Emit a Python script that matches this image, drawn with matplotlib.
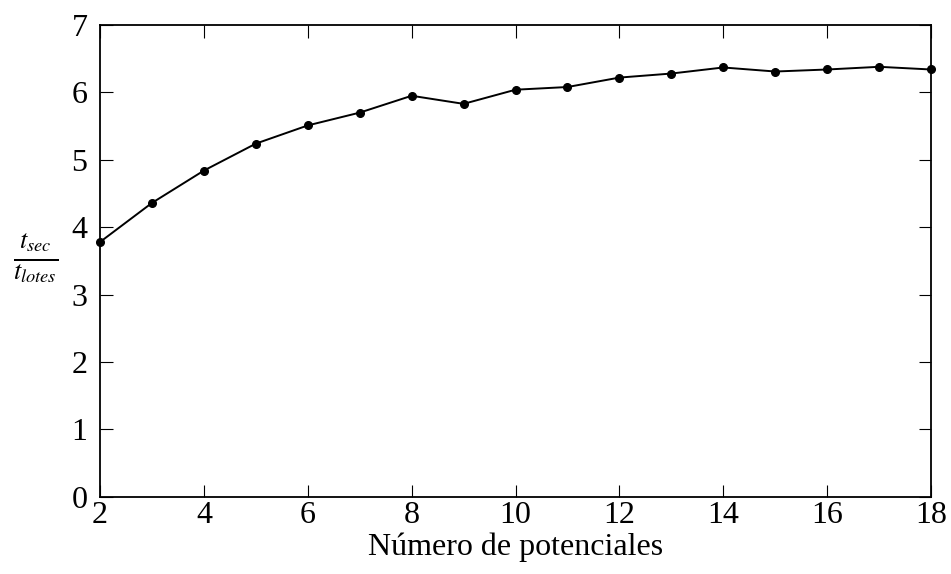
import matplotlib
matplotlib.use("Agg")
import matplotlib.pyplot as plt

n_potenciales = [2, 3, 4, 5, 6, 7, 8, 9, 10, 11, 12, 13, 14, 15, 16, 17, 18]
ratio = [3.78, 4.36, 4.84, 5.24, 5.51, 5.70, 5.95, 5.83, 6.04, 6.08, 6.22,
         6.28, 6.37, 6.31, 6.34, 6.38, 6.34]
x_ticks = [2, 4, 6, 8, 10, 12, 14, 16, 18]
y_ticks = [0, 1, 2, 3, 4, 5, 6, 7]

plt.rcParams['font.family'] = ['Liberation Serif', 'DejaVu Serif']
plt.rcParams['mathtext.fontset'] = 'stix'

fig = plt.figure(figsize=(9.51, 5.74), dpi=100)
ax = fig.add_axes([0.1052, 0.1347, 0.979 - 0.1052, 0.9564 - 0.1347])

ax.plot(n_potenciales, ratio, color='black', lw=1.4, marker='o',
        markersize=5.5, clip_on=False, zorder=3)

ax.set_xlim(2, 18)
ax.set_ylim(0, 7)
ax.set_xticks(x_ticks)
ax.set_yticks(y_ticks)
ax.tick_params(direction='in', length=9, width=0.8, top=True, right=True,
               labelsize=23)
ax.tick_params(axis='x', pad=3)
ax.tick_params(axis='y', pad=9)
for s in ax.spines.values():
    s.set_linewidth(1.3)

ax.set_xlabel('Número de potenciales', fontsize=23, labelpad=2)
ax.set_ylabel(r'$\frac{t_{sec}}{t_{lotes}}$', fontsize=27, rotation=0,
              va='center', ha='center')
ax.yaxis.set_label_coords(-0.078, 0.505)

fig.savefig('out.png', dpi=100)
